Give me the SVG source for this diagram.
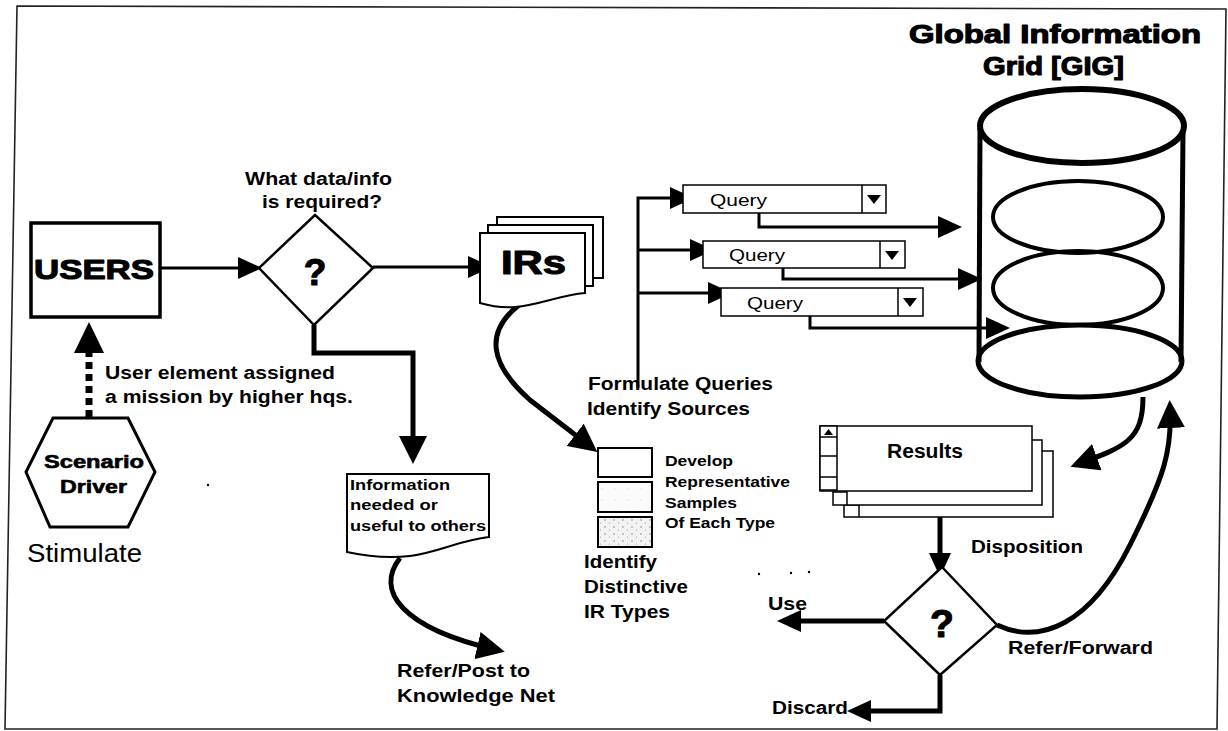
<svg xmlns="http://www.w3.org/2000/svg" width="1228" height="731" viewBox="0 0 1228 731">
<style>
text{font-family:"Liberation Sans",Arial,sans-serif;fill:#000}
.b{font-weight:bold}
.h{font-weight:900;stroke:#000;stroke-width:1.1;stroke-linejoin:round}
.ln{fill:none;stroke:#000;stroke-linejoin:miter}
.shape{fill:#fff;stroke:#000}
</style>
<defs>
<marker id="a" markerUnits="userSpaceOnUse" markerWidth="24" markerHeight="22" viewBox="0 0 24 22" refX="18" refY="11" orient="auto"><path d="M0,0 L24,11 L0,22 z" fill="#000"/></marker>
<marker id="big" markerUnits="userSpaceOnUse" markerWidth="28" markerHeight="28" viewBox="0 0 28 28" refX="20" refY="14" orient="auto"><path d="M0,0 L28,14 L0,28 z" fill="#000"/></marker>
<pattern id="stip" width="9" height="7" patternUnits="userSpaceOnUse"><rect width="9" height="7" fill="#f2f2f2"/><circle cx="2" cy="2" r="0.7" fill="#777"/><circle cx="6.5" cy="5" r="0.6" fill="#999"/></pattern>
<pattern id="stip2" width="13" height="11" patternUnits="userSpaceOnUse"><rect width="13" height="11" fill="#fbfbfb"/><circle cx="4" cy="5" r="0.5" fill="#bbb"/></pattern>
</defs>
<rect width="1228" height="731" fill="#fff"/>
<polygon points="17,6 1226,9 1217,729 5,729" fill="none" stroke="#222" stroke-width="1.6"/>

<g id="connectors">
<path class="ln" d="M160,268 H256" stroke-width="3" marker-end="url(#a)"/>
<path class="ln" d="M373,267 H486" stroke-width="3" marker-end="url(#a)"/>
<path class="ln" d="M314,325 V353 H413 V456" stroke-width="5" marker-end="url(#big)"/>
<path class="ln" d="M519,305 Q468,345 530,400 L591,447" stroke-width="5" marker-end="url(#big)"/>
<path class="ln" d="M400,558 C375,590 400,628 497,650" stroke-width="5" marker-end="url(#big)"/>
<path class="ln" d="M638,388 V198 H688" stroke-width="3" marker-end="url(#a)"/>
<path class="ln" d="M638,250 H708" stroke-width="3" marker-end="url(#a)"/>
<path class="ln" d="M638,293 H726" stroke-width="3" marker-end="url(#a)"/>
<path class="ln" d="M759,213 V227 H956" stroke-width="3" marker-end="url(#a)"/>
<path class="ln" d="M783,268 V279 H976" stroke-width="3" marker-end="url(#a)"/>
<path class="ln" d="M810,316 V328 H1004" stroke-width="3" marker-end="url(#a)"/>
<path class="ln" d="M1143,397 C1143,440 1125,447 1078,464" stroke-width="5" marker-end="url(#big)"/>
<path class="ln" d="M997,625 C1040,645 1090,625 1130,545 C1165,475 1172,450 1170,408" stroke-width="5" marker-end="url(#big)"/>
<path class="ln" d="M940,491 V571" stroke-width="5" marker-end="url(#a)"/>
<path class="ln" d="M884,621 H783" stroke-width="5" marker-end="url(#a)"/>
<path class="ln" d="M940,675 V711 H853" stroke-width="5" marker-end="url(#a)"/>
<path class="ln" d="M89,417 V352" stroke-width="7" stroke-dasharray="7,5"/>
<polygon points="89,322 74,353 104,353" fill="#000"/>
</g>

<g id="users">
<rect class="shape" x="31" y="223" width="129" height="94" stroke-width="3.5"/>
<text class="h" x="34" y="279" font-size="28" textLength="120" lengthAdjust="spacingAndGlyphs">USERS</text>
</g>

<g id="decision1">
<polygon class="shape" points="315,215 373,268 314,325 259,268" stroke-width="2.5"/>
<text class="h" x="315" y="285" font-size="37" text-anchor="middle">?</text>
<text class="b" x="245" y="185" font-size="18" textLength="147" lengthAdjust="spacingAndGlyphs">What data/info</text>
<text class="b" x="262" y="208" font-size="18" textLength="120" lengthAdjust="spacingAndGlyphs">is required?</text>
</g>

<g id="scenario">
<polygon class="shape" points="53,418 128,418 155,472 128,527 50,527 26,472" stroke-width="3"/>
<text class="h" x="44" y="468" font-size="18" textLength="100" lengthAdjust="spacingAndGlyphs" style="stroke-width:0.6">Scenario</text>
<text class="h" x="60" y="493" font-size="18" textLength="67" lengthAdjust="spacingAndGlyphs" style="stroke-width:0.6">Driver</text>
<text x="27" y="562" font-size="25" textLength="115" lengthAdjust="spacingAndGlyphs">Stimulate</text>
<text class="b" x="105" y="379" font-size="18" textLength="230" lengthAdjust="spacingAndGlyphs">User element assigned</text>
<text class="b" x="105" y="403" font-size="18" textLength="248" lengthAdjust="spacingAndGlyphs">a mission by higher hqs.</text>
</g>

<g id="irs">
<rect class="shape" x="497" y="217" width="106" height="61" stroke-width="2"/>
<rect class="shape" x="488" y="225" width="105" height="61" stroke-width="2"/>
<path class="shape" d="M480,233 H585 V293 C560,295 540,305 515,307 C500,308 490,306 480,303 Z" stroke-width="2"/>
<text class="h" x="501" y="274" font-size="33" textLength="65" lengthAdjust="spacingAndGlyphs">IRs</text>
</g>

<g id="info">
<path class="shape" d="M347,474 H489 V537 C460,540 440,552 410,556 C385,559 365,556 347,552 Z" stroke-width="2"/>
<text class="b" x="350" y="490" font-size="14" textLength="100" lengthAdjust="spacingAndGlyphs">Information</text>
<text class="b" x="350" y="510" font-size="14" textLength="88" lengthAdjust="spacingAndGlyphs">needed or</text>
<text class="b" x="350" y="531" font-size="14" textLength="136" lengthAdjust="spacingAndGlyphs">useful to others</text>
</g>

<g id="knowledge">
<text class="b" x="397" y="677" font-size="18" textLength="133" lengthAdjust="spacingAndGlyphs">Refer/Post to</text>
<text class="b" x="397" y="702" font-size="18" textLength="158" lengthAdjust="spacingAndGlyphs">Knowledge Net</text>
</g>

<g id="formulate">
<text class="b" x="588" y="390" font-size="18" textLength="185" lengthAdjust="spacingAndGlyphs">Formulate Queries</text>
<text class="b" x="587" y="415" font-size="18" textLength="163" lengthAdjust="spacingAndGlyphs">Identify Sources</text>
</g>

<g id="query1">
<rect class="shape" x="683" y="185" width="203" height="28" stroke-width="1.5"/>
<line x1="862" y1="185" x2="862" y2="213" stroke="#000" stroke-width="1.5"/>
<polygon points="867,195 881,195 874,204" fill="#000"/>
<text x="710" y="206" font-size="17" textLength="57" lengthAdjust="spacingAndGlyphs">Query</text>
</g>
<g id="query2">
<rect class="shape" x="703" y="241" width="202" height="27" stroke-width="1.5"/>
<line x1="880" y1="241" x2="880" y2="268" stroke="#000" stroke-width="1.5"/>
<polygon points="885,251 899,251 892,260" fill="#000"/>
<text x="729" y="261" font-size="17" textLength="56" lengthAdjust="spacingAndGlyphs">Query</text>
</g>
<g id="query3">
<rect class="shape" x="721" y="288" width="202" height="28" stroke-width="1.5"/>
<line x1="898" y1="288" x2="898" y2="316" stroke="#000" stroke-width="1.5"/>
<polygon points="903,298 917,298 910,307" fill="#000"/>
<text x="747" y="309" font-size="17" textLength="56" lengthAdjust="spacingAndGlyphs">Query</text>
</g>

<g id="gig">
<text class="h" x="909" y="43" font-size="25" textLength="292" lengthAdjust="spacingAndGlyphs">Global Information</text>
<text class="h" x="983" y="75" font-size="25" textLength="141" lengthAdjust="spacingAndGlyphs">Grid [GIG]</text>
<line x1="980" y1="128" x2="979" y2="362" stroke="#000" stroke-width="5"/>
<line x1="1183" y1="132" x2="1181" y2="362" stroke="#000" stroke-width="5"/>
<ellipse cx="1082" cy="126" rx="102" ry="37" fill="#fff" stroke="#000" stroke-width="6"/>
<ellipse cx="1078" cy="217" rx="85" ry="36" fill="none" stroke="#000" stroke-width="4"/>
<ellipse cx="1078" cy="288" rx="85" ry="37" fill="none" stroke="#000" stroke-width="4"/>
<ellipse cx="1080" cy="361" rx="102" ry="36" fill="none" stroke="#000" stroke-width="5"/>
</g>

<g id="samples">
<rect class="shape" x="598" y="448" width="54" height="29" stroke-width="2"/>
<rect x="598" y="482" width="54" height="30" fill="url(#stip2)" stroke="#000" stroke-width="2"/>
<rect x="598" y="517" width="54" height="30" fill="url(#stip)" stroke="#000" stroke-width="2"/>
<text class="b" x="665" y="466" font-size="15" textLength="68" lengthAdjust="spacingAndGlyphs">Develop</text>
<text class="b" x="665" y="487" font-size="15" textLength="125" lengthAdjust="spacingAndGlyphs">Representative</text>
<text class="b" x="665" y="508" font-size="15" textLength="72" lengthAdjust="spacingAndGlyphs">Samples</text>
<text class="b" x="665" y="528" font-size="15" textLength="110" lengthAdjust="spacingAndGlyphs">Of Each Type</text>
<text class="b" x="584" y="568" font-size="19" textLength="73" lengthAdjust="spacingAndGlyphs">Identify</text>
<text class="b" x="584" y="593" font-size="19" textLength="104" lengthAdjust="spacingAndGlyphs">Distinctive</text>
<text class="b" x="584" y="618" font-size="19" textLength="86" lengthAdjust="spacingAndGlyphs">IR Types</text>
</g>

<g id="results">
<rect class="shape" x="844" y="451" width="209" height="66" stroke-width="1.5"/>
<line x1="859" y1="451" x2="859" y2="517" stroke="#000" stroke-width="1.5"/>
<line x1="844" y1="505" x2="859" y2="505" stroke="#000" stroke-width="1.5"/>
<rect class="shape" x="833" y="440" width="209" height="65" stroke-width="1.5"/>
<line x1="847" y1="440" x2="847" y2="505" stroke="#000" stroke-width="1.5"/>
<line x1="833" y1="492" x2="847" y2="492" stroke="#000" stroke-width="1.5"/>
<rect class="shape" x="820" y="426" width="212" height="65" stroke-width="1.5"/>
<rect class="shape" x="820" y="426" width="17" height="64" stroke-width="1.5"/>
<line x1="820" y1="437" x2="837" y2="437" stroke="#000" stroke-width="1.5"/>
<line x1="820" y1="456" x2="837" y2="456" stroke="#000" stroke-width="1.5"/>
<line x1="820" y1="477" x2="837" y2="477" stroke="#000" stroke-width="1.5"/>
<polygon points="828.5,429 824,435 833,435" fill="#000"/>
<text class="b" x="887" y="458" font-size="20" textLength="76" lengthAdjust="spacingAndGlyphs">Results</text>
<text class="b" x="971" y="553" font-size="18" textLength="112" lengthAdjust="spacingAndGlyphs">Disposition</text>
</g>

<g id="decision2">
<polygon class="shape" points="942,567 997,625 940,675 884,621" stroke-width="2.5"/>
<text class="h" x="942" y="637" font-size="39" text-anchor="middle">?</text>
<text class="b" x="768" y="610" font-size="18" textLength="39" lengthAdjust="spacingAndGlyphs">Use</text>
<text class="b" x="1008" y="654" font-size="18" textLength="145" lengthAdjust="spacingAndGlyphs">Refer/Forward</text>
<text class="b" x="772" y="714" font-size="18" textLength="76" lengthAdjust="spacingAndGlyphs">Discard</text>
</g>

<g id="specks" fill="#000">
<circle cx="208" cy="485" r="1.2"/>
<circle cx="759" cy="574" r="1.2"/>
<circle cx="791" cy="573" r="1.2"/>
<circle cx="809" cy="572" r="1.2"/>
</g>
</svg>
